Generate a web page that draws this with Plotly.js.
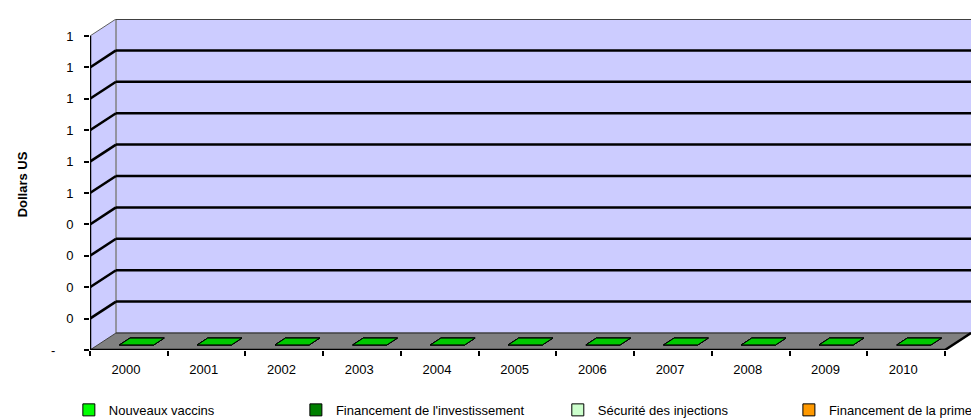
<!DOCTYPE html>
<html>
<head>
<meta charset="utf-8">
<script src="https://cdn.plot.ly/plotly-3.0.1.min.js"></script>
<style>html,body{margin:0;padding:0;background:#fff;}#chart{width:971px;height:418px;}</style>
</head>
<body>
<div id="chart"></div>
<script>
// ---- Data ----
const categories = ['2000','2001','2002','2003','2004','2005','2006','2007','2008','2009','2010'];
const nouveauxVaccins = [0,0,0,0,0,0,0,0,0,0,0];
const financementInvestissement = [0,0,0,0,0,0,0,0,0,0,0];
const securiteInjections = [0,0,0,0,0,0,0,0,0,0,0];
const financementPrime = [0,0,0,0,0,0,0,0,0,0,0];
const seriesNames = ['Nouveaux vaccins', "Financement de l'investissement", 'Sécurité des injections', 'Financement de la prime'];
const yTickVals = [0,0.1,0.2,0.3,0.4,0.5,0.6,0.7,0.8,0.9,1];
const yTickText = ['-\u00a0\u00a0\u00a0\u00a0\u00a0','0','0','0','0','1','1','1','1','1','1'];

// ---- Styles ----
const seriesColors = ['#00ff00','#008000','#ccffcc','#ff9900'];
const topColors = ['#00c800','#006000','#a8d8a8','#d07c00'];
const N = categories.length;
const DX = 0.3346;      // depth offset in category units
const DY = 0.0541;      // depth offset in value units
const XMAX = N + DX;
const YMAX = 1 + DY;
const F0 = 0.3, F1 = 0.7, HW = 0.22;
const FONT = 'Liberation Sans, Arial, sans-serif';

const seriesValues = [nouveauxVaccins, financementInvestissement, securiteInjections, financementPrime];

// stacked bases
const bases = [];
let cum = new Array(N).fill(0);
seriesValues.forEach(vals => {
  bases.push(cum.slice());
  cum = cum.map((c, i) => c + vals[i]);
});

const traces = [];
// 3D faces, drawn last series first so the first series face sits on top
for (let s = seriesValues.length - 1; s >= 0; s--) {
  const vals = seriesValues[s];
  const fx = [], fy = [], tx = [], ty = [], rx = [], ry = [];
  for (let i = 0; i < N; i++) {
    const c = i + 0.5;
    const b = bases[s][i], t = b + vals[i];
    const l = c - HW, r = c + HW;
    tx.push(l + F0*DX, r + F0*DX, r + F1*DX, l + F1*DX, l + F0*DX, null);
    ty.push(t + F0*DY, t + F0*DY, t + F1*DY, t + F1*DY, t + F0*DY, null);
    if (vals[i] > 0) {
      fx.push(l + F0*DX, r + F0*DX, r + F0*DX, l + F0*DX, l + F0*DX, null);
      fy.push(b + F0*DY, b + F0*DY, t + F0*DY, t + F0*DY, b + F0*DY, null);
      rx.push(r + F0*DX, r + F1*DX, r + F1*DX, r + F0*DX, r + F0*DX, null);
      ry.push(b + F0*DY, b + F1*DY, t + F1*DY, t + F0*DY, b + F0*DY, null);
    }
  }
  if (fx.length) {
    traces.push({type:'scatter', mode:'lines', x:fx, y:fy, fill:'toself', fillcolor:seriesColors[s], line:{color:'#000', width:1}, showlegend:false, hoverinfo:'skip'});
    traces.push({type:'scatter', mode:'lines', x:rx, y:ry, fill:'toself', fillcolor:topColors[s], line:{color:'#000', width:1}, showlegend:false, hoverinfo:'skip'});
  }
  traces.push({type:'scatter', mode:'lines', x:tx, y:ty, fill:'toself', fillcolor:topColors[s], line:{color:'#000', width:1}, showlegend:false, hoverinfo:'skip'});
}

// legend entries (bar traces of the same data)
const legendIds = ['legend','legend2','legend3','legend4'];
seriesValues.forEach((vals, s) => {
  traces.push({
    type:'bar', name:seriesNames[s], x:categories.map((_, i) => i + 0.5), y:vals,
    marker:{color:seriesColors[s], line:{color:'#000', width:1}},
    legend:legendIds[s], hoverinfo:'skip', width:0.01
  });
});

// ---- Decoration shapes (walls, floor, gridlines) ----
const shapes = [];
shapes.push({type:'path', xref:'x', yref:'y', layer:'below',
  path:`M ${DX},${DY} L ${XMAX},${DY} L ${XMAX},${YMAX} L ${DX},${YMAX} Z`,
  fillcolor:'#ccccff', line:{width:0}});
shapes.push({type:'path', xref:'x', yref:'y', layer:'below',
  path:`M 0,0 L ${DX},${DY} L ${DX},${YMAX} L 0,1 Z`,
  fillcolor:'#ccccff', line:{width:0}});
shapes.push({type:'path', xref:'x', yref:'y', layer:'below',
  path:`M 0,0 L ${DX},${DY} L ${XMAX},${DY} L ${N},0 Z`,
  fillcolor:'#808080', line:{width:0}});
shapes.push({type:'line', xref:'x', yref:'y', layer:'below', x0:DX, x1:DX, y0:DY, y1:YMAX, line:{color:'#808080', width:1.5}});
yTickVals.forEach(v => {
  if (v === 0) {
    shapes.push({type:'line', xref:'x', yref:'y', layer:'below', x0:DX, x1:XMAX, y0:DY, y1:DY, line:{color:'#404040', width:1.5}});
    shapes.push({type:'line', xref:'x', yref:'y', layer:'below', x0:0, x1:DX, y0:0, y1:DY, line:{color:'#404040', width:1}});
  } else if (v === 1) {
    shapes.push({type:'line', xref:'x', yref:'y', layer:'below', x0:DX, x1:XMAX, y0:v+DY, y1:v+DY, line:{color:'#404040', width:2}});
    shapes.push({type:'line', xref:'x', yref:'y', layer:'below', x0:0, x1:DX, y0:v, y1:v+DY, line:{color:'#606060', width:1}});
  } else {
    shapes.push({type:'line', xref:'x', yref:'y', layer:'below', x0:DX, x1:XMAX, y0:v+DY, y1:v+DY, line:{color:'#000', width:2.5}});
    shapes.push({type:'line', xref:'x', yref:'y', layer:'below', x0:0, x1:DX, y0:v, y1:v+DY, line:{color:'#000', width:2.5}});
  }
});
shapes.push({type:'line', xref:'x', yref:'y', layer:'above', x0:0, x1:N, y0:0, y1:0, line:{color:'#000', width:2.5}});
shapes.push({type:'line', xref:'x', yref:'y', layer:'above', x0:N, x1:XMAX, y0:0, y1:DY, line:{color:'#000', width:2.5}});
shapes.push({type:'line', xref:'x', yref:'y', layer:'above', x0:0, x1:0, y0:0, y1:1, line:{color:'#000', width:2.5}});

function legendAt(x) {
  return {orientation:'h', x:x, y:-0.181, xanchor:'left', yanchor:'middle',
    bgcolor:'rgba(0,0,0,0)', borderwidth:0, itemwidth:30,
    font:{family:FONT, size:13, color:'#000'}, itemclick:false, itemdoubleclick:false};
}

const layout = {
  width:971, height:418,
  margin:{l:90, r:0, t:19, b:68, pad:0, autoexpand:false},
  paper_bgcolor:'#ffffff', plot_bgcolor:'rgba(0,0,0,0)',
  font:{family:FONT, size:13, color:'#000'},
  showlegend:true,
  barmode:'overlay',
  xaxis:{
    range:[0, XMAX], tickvals:categories.map((_, i) => i).concat([N]),
    ticktext:categories.concat(['']), ticklabelshift:36, ticklabelstandoff:2,
    ticks:'outside', ticklen:5, tickwidth:2, tickcolor:'#000',
    showgrid:false, zeroline:false, showline:false, fixedrange:true, automargin:false,
    tickfont:{family:FONT, size:13, color:'#000'}
  },
  yaxis:{
    range:[0, YMAX], tickvals:yTickVals, ticktext:yTickText,
    ticks:'outside', ticklen:5, tickwidth:2, tickcolor:'#000', ticklabelstandoff:8,
    showgrid:false, zeroline:false, showline:false, fixedrange:true, automargin:false,
    tickfont:{family:FONT, size:13, color:'#000'},
    title:{text:'<b>Dollars US</b>\u00a0\u00a0\u00a0\u00a0\u00a0', font:{family:FONT, size:13, color:'#000'}, standoff:20}
  },
  legend:legendAt(-0.024),
  legend2:legendAt(0.2337),
  legend3:legendAt(0.531),
  legend4:legendAt(0.7933),
  shapes:shapes
};

Plotly.newPlot('chart', traces, layout, {displayModeBar:false, staticPlot:true});
</script>
</body>
</html>
